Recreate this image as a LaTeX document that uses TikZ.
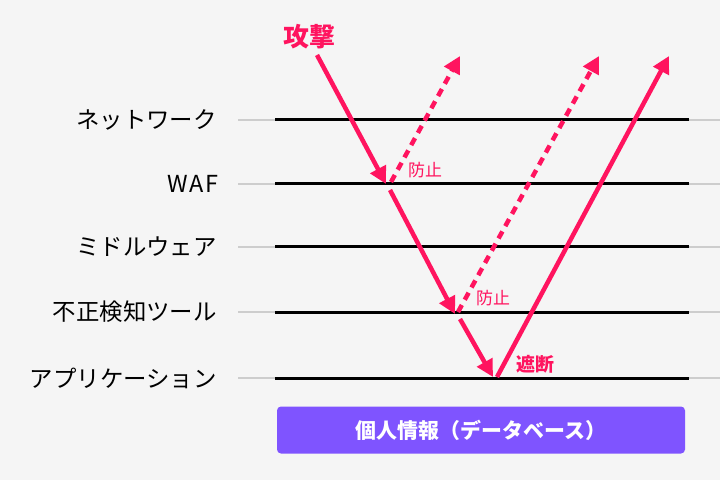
\documentclass[tikz,border=0pt]{standalone}
\usepackage{fontspec}
\setmainfont{Noto Sans CJK JP}
\usepackage{tikz}
\usetikzlibrary{arrows.meta}
\usepackage{xcolor}
\definecolor{attackpink}{RGB}{255,20,95}
\definecolor{dbpurple}{RGB}{127,84,255}
\definecolor{bggray}{RGB}{245,245,245}
\definecolor{linegray}{RGB}{205,205,205}

\begin{document}
\begin{tikzpicture}[x=1bp, y=-1bp,
    layer/.style={anchor=east, font=\fontsize{23.5}{26}\selectfont, text=black, inner sep=0pt},
    note/.style={font=\fontsize{17}{20}\selectfont, text=attackpink, inner sep=0pt},
    hit/.style={-{Triangle[length=17bp, width=17bp]}, line width=4.5bp, draw=attackpink},
    pass/.style={hit, dash pattern=on 8bp off 6bp},
    grayline/.style={draw=linegray, line width=2bp},
    blackline/.style={draw=black, line width=3bp}]
  % Background
  \fill[bggray] (0,0) rectangle (720,480);
  \useasboundingbox (0,0) rectangle (720,480);

  % Layers
  \draw[grayline] (238,120) -- (720,120);
  \draw[grayline] (238,184) -- (720,184);
  \draw[grayline] (238,247) -- (720,247);
  \draw[grayline] (238,312) -- (720,312);
  \draw[grayline] (238,378) -- (720,378);
  \draw[blackline] (275,120) -- (689,120);
  \draw[blackline] (275,184) -- (689,184);
  \draw[blackline] (275,247) -- (689,247);
  \draw[blackline] (275,312) -- (689,312);
  \draw[blackline] (275,378) -- (689,378);

  \node[layer] (network) at (217,120) {ネットワーク};
  \node[layer] (waf) at (219,184) {\addfontfeatures{LetterSpace=8}WAF};
  \node[layer] (middleware) at (217,247) {ミドルウェア};
  \node[layer] (ids) at (217,312) {不正検知ツール};
  \node[layer] (app) at (217,378) {アプリケーション};

  % Database
  \node[draw=none, fill=dbpurple, rounded corners=4bp, minimum width=408bp, minimum height=47bp,
        text=white, font=\fontsize{21}{24}\selectfont\bfseries] (db) at (481,430) {個人情報（データベース）};

  % Labels
  \node[note, font=\fontsize{26}{28}\selectfont\bfseries] (attack) at (309,37) {攻撃};
  \node[note] (stop1) at (425,170) {防止};
  \node[note] (stop2) at (493,298) {防止};
  \node[note, font=\fontsize{19}{22}\selectfont\bfseries] (block) at (535,364) {遮断};

  % Points
  \coordinate (a0) at (317,55);
  \coordinate (a1) at (386,184);
  \coordinate (r1) at (391,182);
  \coordinate (e1) at (460,56);
  \coordinate (a2) at (390,190);
  \coordinate (a3) at (455,314);
  \coordinate (r2) at (458,312);
  \coordinate (e2) at (599,56);
  \coordinate (a4) at (460,319);
  \coordinate (a5) at (493,377);
  \coordinate (r3) at (497,377);
  \coordinate (e3) at (669,56);

  % Arrows
  \draw[hit] (a0) -- (a1);
  \draw[pass] (r1) -- (e1);
  \draw[hit] (a2) -- (a3);
  \draw[pass] (r2) -- (e2);
  \draw[hit] (a4) -- (a5);
  \draw[hit] (r3) -- (e3);
\end{tikzpicture}
\end{document}
